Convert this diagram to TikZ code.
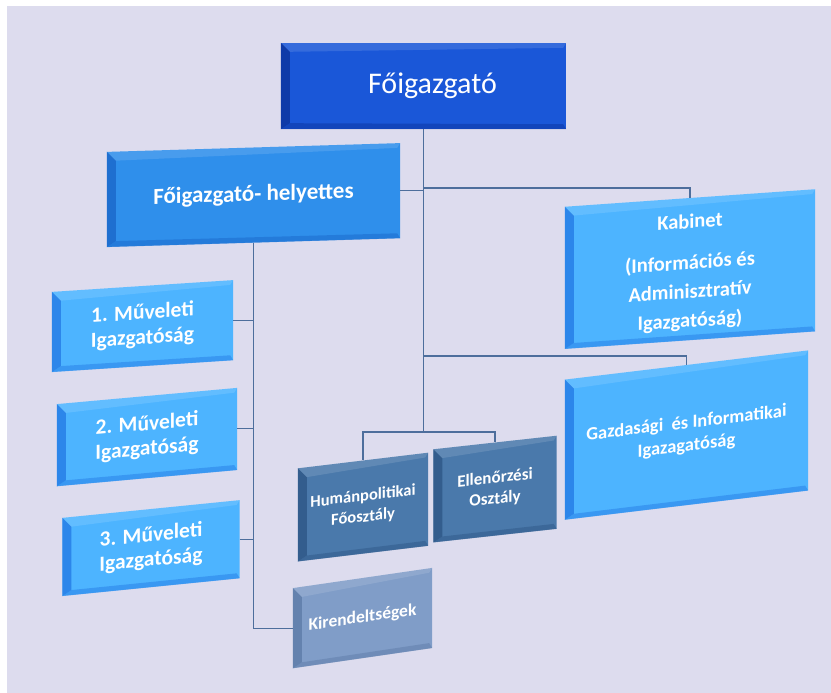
\documentclass[tikz,border=0pt]{standalone}
\usepackage{fontspec}
\setmainfont{Carlito}
\usepackage{tikz}
\usetikzlibrary{calc}
\usetikzlibrary{positioning}
\definecolor{backdrop}{RGB}{221, 220, 238}
\definecolor{royal}{RGB}{26, 87, 216}
\definecolor{royaldark}{RGB}{14, 58, 168}
\definecolor{azure}{RGB}{47, 143, 235}
\definecolor{azuredark}{RGB}{30, 111, 208}
\definecolor{sky}{RGB}{77, 180, 255}
\definecolor{skydark}{RGB}{44, 134, 234}
\definecolor{steel}{RGB}{74, 121, 171}
\definecolor{steeldark}{RGB}{51, 93, 141}
\definecolor{slate}{RGB}{128, 157, 200}
\definecolor{slatedark}{RGB}{100, 130, 174}
\definecolor{wire}{RGB}{77, 110, 156}
\tikzset{
  orgbox/.style={rectangle, inner sep=0pt, text=white, align=center},
  link/.style={draw=wire, line width=1.1pt},
}

\begin{document}
\begin{tikzpicture}[x=1pt, y=-1pt]
  \useasboundingbox (0,0) rectangle (831,693);
  \fill[white] (0,0) rectangle (831,693);
  \fill[backdrop] (7,6) rectangle (831,693);

  \node[orgbox, fill=royal, minimum width=285pt, minimum height=86pt,
        font=\fontsize{30}{34}\selectfont] (fo) at (423.5,86) {\hspace*{18pt}Főigazgató};
  \node[orgbox, fill=azure, minimum width=293pt, minimum height=95pt, yslant=0.03,
        font=\bfseries\fontsize{23}{27}\selectfont] (hely) at (253.5,195) {Főigazgató- helyettes};
  \node[orgbox, fill=sky, minimum width=250pt, minimum height=142pt, yslant=0.07,
        font=\bfseries\fontsize{20.5}{29}\selectfont] (kab) at (690,269)
        {\\[-8pt]Kabinet\\[12pt](Információs és\\Adminisztratív\\Igazgatóság)};
  \node[orgbox, fill=sky, minimum width=243pt, minimum height=140pt, yslant=0.12,
        font=\bfseries\fontsize{18.5}{23}\selectfont] (gazd) at (686.5,435)
        {Gazdasági\ \ és Informatikai\\Igazagatóság};
  \node[orgbox, fill=sky, minimum width=181pt, minimum height=80pt, yslant=0.065,
        font=\bfseries\fontsize{21.5}{25}\selectfont] (m1) at (142.5,326) {1. Műveleti\\Igazgatóság};
  \node[orgbox, fill=sky, minimum width=180pt, minimum height=82pt, yslant=0.09,
        font=\bfseries\fontsize{21.5}{25}\selectfont] (m2) at (147,437) {2. Műveleti\\Igazgatóság};
  \node[orgbox, fill=sky, minimum width=177pt, minimum height=78pt, yslant=0.1,
        font=\bfseries\fontsize{21.5}{25}\selectfont] (m3) at (151,548) {3. Műveleti\\Igazgatóság};
  \node[orgbox, fill=steel, minimum width=130pt, minimum height=93pt, yslant=0.12,
        font=\bfseries\fontsize{16.5}{21}\selectfont] (hum) at (363,507) {Humánpolitikai\\Főosztály};
  \node[orgbox, fill=steel, minimum width=123pt, minimum height=93pt, yslant=0.11,
        font=\bfseries\fontsize{17}{21}\selectfont] (ell) at (495,489) {Ellenőrzési\\Osztály};
  \node[orgbox, fill=slate, minimum width=139pt, minimum height=80pt, yslant=0.145,
        font=\bfseries\fontsize{17.5}{20}\selectfont] (kir) at (362.5,618) {Kirendeltségek};

  \foreach \n/\c in {fo/royaldark, hely/azuredark, kab/skydark, gazd/skydark, m1/skydark,
                     m2/skydark, m3/skydark, hum/steeldark, ell/steeldark, kir/slatedark} {
    \fill[\c] (\n.north west) -- (\n.south west) -- ($(\n.south west)+(9,-6)$)
      -- ($(\n.north west)+(9,9)$) -- cycle;
    \fill[\c, opacity=0.6] (\n.south west) -- (\n.south east) -- ($(\n.south east)+(-3,-5)$)
      -- ($(\n.south west)+(9,-6)$) -- cycle;
    \fill[white, opacity=0.12] (\n.north west) -- (\n.north east) -- ($(\n.north east)+(-3,5)$)
      -- ($(\n.north west)+(9,9)$) -- cycle;
  }

  \coordinate (bus) at (423.5,432);
  \coordinate (kj) at (690,188);
  \coordinate (gj) at (690,356);
  \draw[link] (fo.south) -- (bus);
  \draw[link] (hum.north) |- (bus) -| (ell.north);
  \draw[link] (hely.east) -- (hely.east -| bus);
  \draw[link] (kab.north) |- (kj -| bus);
  \draw[link] (gazd.north) |- (gj -| bus);
  \draw[link] (hely.south) |- (kir.west);
  \foreach \m in {m1, m2, m3}
    \draw[link] (\m.east) -- (\m.east -| hely.south);
\end{tikzpicture}
\end{document}
